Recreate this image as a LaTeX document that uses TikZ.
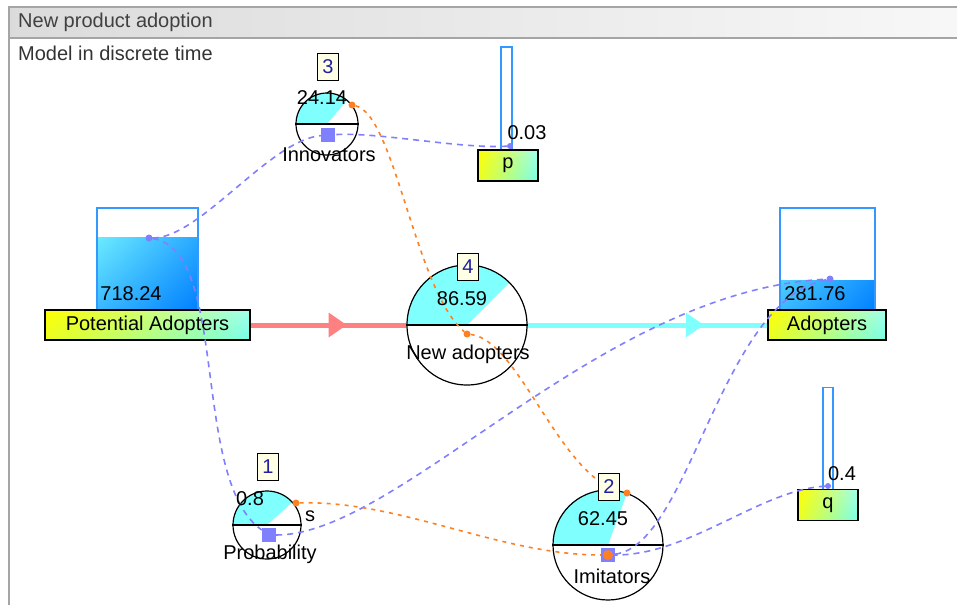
\documentclass[tikz,border=0pt]{standalone}
\usepackage{fontspec}
\setmainfont{Liberation Sans}
\usetikzlibrary{positioning,calc,decorations.markings,shadings}
\definecolor{tankblue}{RGB}{51,153,255}
\definecolor{levellight}{RGB}{128,255,255}
\definecolor{leveldark}{RGB}{0,128,255}
\definecolor{gaugecyan}{RGB}{128,255,255}
\definecolor{linkblue}{RGB}{128,128,255}
\definecolor{linkorange}{RGB}{255,128,32}
\definecolor{inflow}{RGB}{255,128,128}
\definecolor{outflow}{RGB}{128,255,255}
\definecolor{numback}{RGB}{255,255,230}
\definecolor{numblue}{RGB}{32,32,160}
\definecolor{labelcyan}{RGB}{120,255,230}
\definecolor{framegray}{RGB}{165,165,165}

\begin{document}
\begin{tikzpicture}[
  x=1pt, y=-1pt,
  inner sep=0pt,
  font=\fontsize{20}{24}\selectfont,
  mytank/.style 2 args={
    draw=tankblue,
    line width=1.2pt,
    minimum width=#1,
    minimum height=102pt,
    path picture={
      \shade[upper left=levellight, upper right=leveldark!55!levellight,
             lower left=leveldark!55!levellight, lower right=leveldark]
        (path picture bounding box.south west)
        rectangle ([yshift=#2]path picture bounding box.south east);
      }
    },
  mylabel/.style={
    draw,
    line width=1.5pt,
    minimum width=#1,
    minimum height=30pt,
    upper left=yellow,
    lower left=yellow!85!labelcyan,
    upper right=labelcyan!70!white,
    lower right=labelcyan
    },
  mybar/.style={
    draw=tankblue,
    line width=1.2pt,
    minimum width=11pt,
    minimum height=103pt
    },
  myaux/.style 2 args={
    circle,
    draw,
    line width=1.2pt,
    fill=white,
    minimum size=#1,
    path picture={
      \fill[gaugecyan] (path picture bounding box.center)
        -- ++(#2:200pt)
        -- ([shift={(-200pt,200pt)}]path picture bounding box.center)
        -- ([xshift=-200pt]path picture bounding box.center) -- cycle;
      }
    },
  mynum/.style={
    draw,
    line width=0.8pt,
    fill=numback,
    text=numblue,
    minimum width=21pt,
    minimum height=27pt
    },
  myflow/.style 2 args={
    line width=5pt,
    #1,
    postaction={decorate},
    decoration={markings,
      mark=at position #2 with {\fill[#1] (0pt,12.5pt) -- (18pt,0pt) -- (0pt,-12.5pt) -- cycle;}}
    },
  mylinkb/.style={linkblue, line width=1.6pt, dash pattern=on 6pt off 5pt},
  mylinko/.style={linkorange, line width=1.6pt, dash pattern=on 4pt off 5pt},
  mydot/.style={circle, fill=#1, minimum size=7pt},
  mysq/.style={fill=linkblue, minimum size=14pt}
]
\useasboundingbox (0,0) rectangle (957,605);

% window frame
\shade[left color=black!14, right color=black!3] (8,7) rectangle (957,38);
\draw[framegray, line width=1.5pt] (8,7) -- (957,7) (8,38) -- (957,38);
\draw[framegray, line width=2pt] (9,7) -- (9,605);
\node[anchor=west, text=black!75] (title) at (18,22) {New product adoption};
\node[anchor=west, text=black!80] (subtitle) at (18,53) {Model in discrete time};

% stocks
\node[mytank={101pt}{73pt}] (patank) at (147.5,259) {};
\node[mytank={95pt}{30pt}] (atank) at (827.5,259) {};
\node[mylabel=205pt] (palabel) at (147.5,325) {Potential Adopters};
\node[mylabel=118pt] (alabel) at (827,325) {Adopters};
\node (paval) at (131,294) {718.24};
\node (aval) at (815,294) {281.76};

% parameters
\node[mybar] (pbar) at (506.5,98.5) {};
\node[mybar, minimum width=10pt] (qbar) at (828,439) {};
\node[mylabel=60pt, minimum height=31pt] (pbox) at (508,165.5) {p};
\node[mylabel=60pt, minimum height=31pt] (qbox) at (828,505) {q};
\node (pval) at (527,133) {0.03};
\node (qval) at (842,474) {0.4};

% flow and auxiliaries
\node[myaux={120pt}{45}] (newad) at (467,325) {};
\node[myaux={62pt}{50}] (innov) at (327,124) {};
\node[myaux={68pt}{42}] (prob) at (267,525) {};
\node[myaux={110pt}{70}] (imit) at (608,545) {};
\foreach \n in {newad, innov, prob, imit}
  \draw[line width=2pt] (\n.west) -- (\n.east);

\draw[myflow={inflow}{0.5}] (palabel.east) -- (newad.west);
\draw[myflow={outflow}{0.66}] (newad.east) -- (alabel.west);

% link ends
\node[mydot=linkblue] (padot) at (149,238) {};
\node[mydot=linkblue] (adot) at (830,279) {};
\node[mydot=linkblue, minimum size=6pt] (pmark) at (510,146) {};
\node[mydot=linkblue, minimum size=6pt] (qmark) at (828,486) {};
\node[mysq] (innsq) at (328,135) {};
\node[mysq] (probsq) at (269,535) {};
\node[mysq] (imitsq) at (608,555) {};
\node[mydot=linkorange] (nadot) at (467,334) {};
\node[mydot=linkorange] (innodot) at (352,105) {};
\node[mydot=linkorange] (probdot) at (296,503) {};
\node[mydot=linkorange] (imitdot) at (627,493) {};
\node[mydot=linkorange, minimum size=10pt] (imitin) at (imitsq) {};

% links
\draw[mylinkb] (padot) .. controls (200,238) and (270,140) .. (innsq);
\draw[mylinkb] (pmark) .. controls (460,149) and (380,132) .. (innsq);
\draw[mylinkb] (padot) .. controls (230,250) and (190,480) .. (probsq);
\draw[mylinkb] (probsq) .. controls (400,535) and (600,290) .. (adot);
\draw[mylinkb] (imitsq) .. controls (690,545) and (720,300) .. (adot);
\draw[mylinkb] (qmark) .. controls (760,490) and (690,555) .. (imitsq);
\draw[mylinko] (innodot) .. controls (395,115) and (415,290) .. (nadot);
\draw[mylinko] (nadot) .. controls (520,340) and (560,480) .. (imitdot);
\draw[mylinko] (probdot) .. controls (400,500) and (500,555) .. (imitsq);

% numbers, values and names
\node[mynum] (num4) at (468,267) {4};
\node[mynum] (num3) at (328,67) {3};
\node[mynum] (num1) at (268,467) {1};
\node[mynum] (num2) at (609,487) {2};
\node (naval) at (462,299) {86.59};
\node (innval) at (322,98) {24.14};
\node (probval) at (250,499) {0.8};
\node (imitval) at (603,519) {62.45};
\node (naname) at (468,354) {New adopters};
\node (innname) at (329,155) {Innovators};
\node (probname) at (270,554) {Probability};
\node (imitname) at (612,576) {Imitators};
\node (probunit) at (310,516) {s};

\end{tikzpicture}
\end{document}
